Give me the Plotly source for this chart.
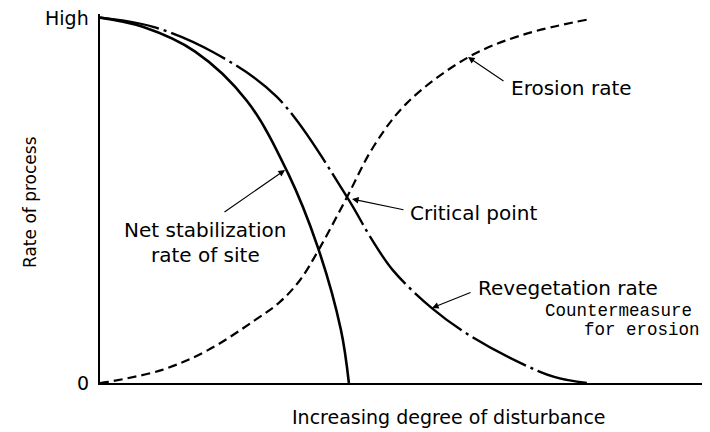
import plotly.graph_objects as go

# curves (x: degree of disturbance 0-100, y: rate 0-100)
net_x = [0, 7.0, 15.6, 24.1, 30.8, 35.7, 39.5, 40.8]
net_y = [100, 97.5, 90.7, 77.2, 57.5, 37.2, 14.5, 0]

reveg_x = [0, 8.7, 18.5, 29.0, 40.5, 44.3, 48.0, 54.4, 60.7, 68.9, 74.6, 79.8]
reveg_y = [100, 97.5, 90.6, 78.3, 50.9, 40.0, 30.9, 20.5, 12.9, 5.5, 1.6, 0]

eros_x = [0, 1.3, 10.2, 17.7, 25.4, 29.5, 32.8, 36.1, 40.5, 44.8, 50.3, 60.2, 69.3, 80.3]
eros_y = [0, 0.3, 3.6, 9.0, 17.2, 22.2, 28.2, 37.2, 50.9, 64.6, 76.6, 89.0, 95.3, 99.6]

# page has an 8px body margin, so keep the figure inside the window
OFF = 8
W, H = 710 - 2 * OFF, 432 - OFF
PL, PT, PB = 100, 14, 383            # plot area in window pixels
PR = OFF + W                         # right edge of plot area
XPX = 6.1                            # pixels per x unit
XMAX = (PR - PL) / XPX
YMAX = 101


def dx(px):
    return (px - PL) / XPX


def dy(py):
    return (PB - py) / (PB - PT) * YMAX


def fx(px):
    return (px - PL) / (PR - PL)


def fy(py):
    return (PB - py) / (PB - PT)


FONT = "DejaVu Sans"
MONO = "Liberation Mono"

fig = go.Figure()
fig.add_trace(go.Scatter(x=net_x, y=net_y, mode="lines",
                         line=dict(color="black", width=2.6, shape="spline")))
fig.add_trace(go.Scatter(x=reveg_x, y=reveg_y, mode="lines",
                         line=dict(color="black", width=2.4, shape="spline",
                                   dash="60px,5px,3px,5px")))
fig.add_trace(go.Scatter(x=eros_x, y=eros_y, mode="lines",
                         line=dict(color="black", width=2.2, shape="spline",
                                   dash="9px,5px")))

labels = [
    ("Erosion rate", 509, 88, "left", FONT, 20, 0),
    ("Critical point", 408, 213, "left", FONT, 20, 0),
    ("Net stabilization", 205, 230, "center", FONT, 20, 0),
    ("rate of site", 205, 255, "center", FONT, 20, 0),
    ("Revegetation rate", 476, 288, "left", FONT, 20, 0),
    ("Countermeasure", 543, 311, "left", MONO, 17.5, 0),
    ("for erosion", 582, 330, "left", MONO, 17.5, 0),
    ("High", 91, 18, "right", FONT, 19, 0),
    ("0", 91, 383, "right", FONT, 19, 0),
    ("Rate of process", 30, 202, "center", FONT, 17, -90),
    ("Increasing degree of disturbance", 449, 417, "center", FONT, 19, 0),
]
for txt, px, py, anchor, fnt, sz, ang in labels:
    fig.add_annotation(x=fx(px), y=fy(py), xref="paper", yref="paper",
                       text=txt, showarrow=False, textangle=ang,
                       xanchor=anchor, yanchor="middle",
                       font=dict(family=fnt, size=sz, color="black"))

arrows = [
    ((505, 82), (468, 57)),
    ((405, 210), (352, 199)),
    ((223, 213), (285, 170)),
    ((472, 292), (432, 308)),
]
for (tx, ty), (hx, hy) in arrows:
    fig.add_annotation(x=dx(hx), y=dy(hy), ax=dx(tx), ay=dy(ty),
                       xref="x", yref="y", axref="x", ayref="y",
                       text="", showarrow=True, arrowhead=2, arrowsize=1.2,
                       arrowwidth=1.1, arrowcolor="black")

fig.update_xaxes(range=[0, XMAX], showline=True, linecolor="black", linewidth=2,
                 showgrid=False, zeroline=False, showticklabels=False, ticks="")
fig.update_yaxes(range=[0, YMAX], showline=True, linecolor="black", linewidth=2,
                 showgrid=False, zeroline=False, showticklabels=False, ticks="")
fig.update_layout(width=W, height=H,
                  margin=dict(l=PL - OFF, r=0, t=PT - OFF, b=OFF + H - PB),
                  plot_bgcolor="white", paper_bgcolor="white", showlegend=False)

fig.write_html("out.html")
